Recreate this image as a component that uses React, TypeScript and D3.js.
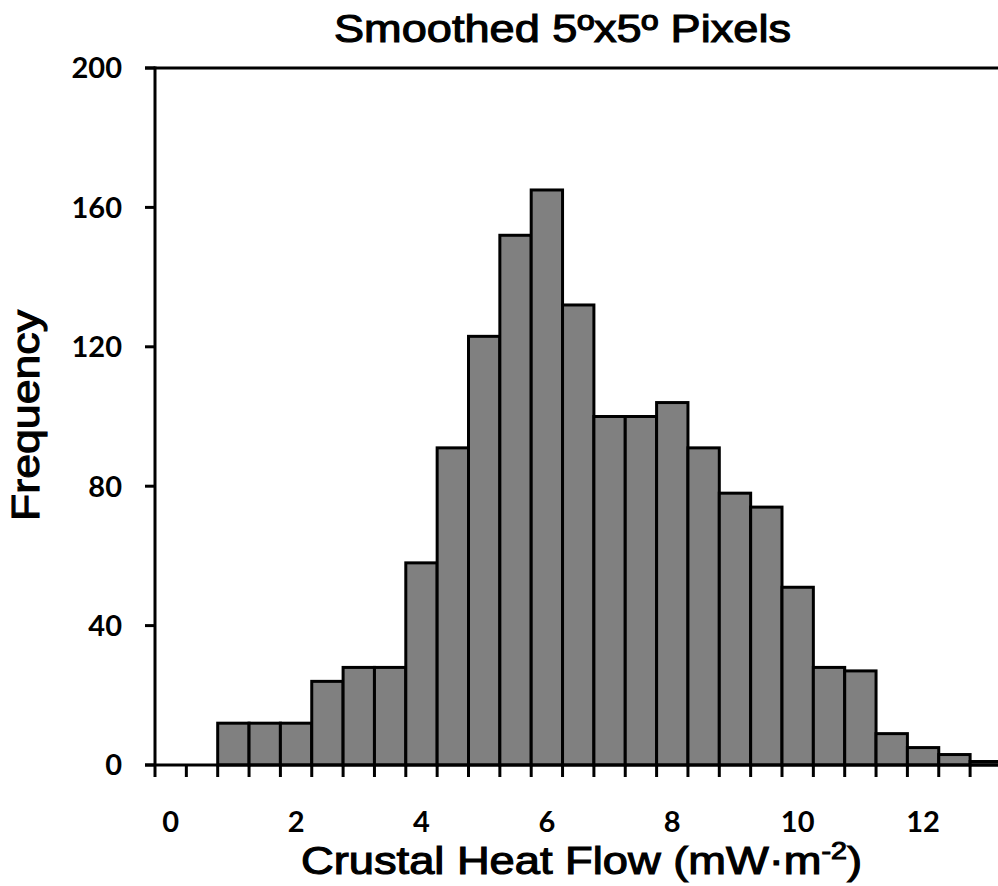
import React from "react";
import * as d3 from "d3";

const binStarts: number[] = [0, 0.5, 1, 1.5, 2, 2.5, 3, 3.5, 4, 4.5, 5, 5.5, 6, 6.5, 7, 7.5, 8, 8.5, 9, 9.5, 10, 10.5, 11, 11.5, 12, 12.5, 13];
const frequencies: number[] = [0, 0, 12, 12, 12, 24, 28, 28, 58, 91, 123, 152, 165, 132, 100, 100, 104, 91, 78, 74, 51, 28, 27, 9, 5, 3, 1];
const xTickLabels: number[] = [0, 2, 4, 6, 8, 10, 12];
const yTicks: number[] = [0, 40, 80, 120, 160, 200];

const W = 998;
const H = 886;
const left = 155;
const bandW = 31.35;
const top = 68;
const bottom = 765;

export default function App() {
  const cats = binStarts.map(String);
  const x = d3.scaleBand<string>().domain(cats).range([left, left + bandW * cats.length]).padding(0);
  const y = d3.scaleLinear().domain([0, 200]).range([bottom, top]);
  const tickFont = "Lato, 'Open Sans', sans-serif";
  const labelFont = "'Liberation Sans', Arial, sans-serif";
  const boundaries = d3.range(cats.length + 1).map((i) => left + i * x.bandwidth());

  return (
    <svg width={W} height={H} style={{ position: "absolute", left: 0, top: 0, background: "#fff" }}>
      <rect x={0} y={0} width={W} height={H} fill="#fff" />
      <text x={334} y={42} textLength={457} lengthAdjust="spacingAndGlyphs" fontFamily={labelFont} fontWeight="normal" stroke="#000" strokeWidth={1.1} fontSize={39} fill="#000">
        Smoothed 5ºx5º Pixels
      </text>
      {/* bars */}
      {frequencies.map((f, i) =>
        f > 0 ? (
          <rect
            key={i}
            x={x(cats[i])!}
            y={y(f)}
            width={x.bandwidth()}
            height={y(0) - y(f)}
            fill="#808080"
            stroke="#000"
            strokeWidth={3}
          />
        ) : null
      )}
      {/* top line */}
      <line x1={left - 10} x2={W} y1={y(200)} y2={y(200)} stroke="#000" strokeWidth={3} />
      {/* y axis */}
      <line x1={left} x2={left} y1={y(200) - 1.5} y2={y(0)} stroke="#000" strokeWidth={3} />
      {yTicks.map((t) => (
        <g key={t}>
          <line x1={left - 10} x2={left} y1={y(t)} y2={y(t)} stroke="#000" strokeWidth={3} />
          <text x={122} y={y(t)} dy="0.36em" textAnchor="end" fontFamily={tickFont} fontWeight="bold" fontSize={29} fill="#000">
            {t}
          </text>
        </g>
      ))}
      {/* x axis */}
      <line x1={left - 10} x2={W} y1={y(0)} y2={y(0)} stroke="#000" strokeWidth={3} />
      {boundaries.map((b, i) => (
        <line key={i} x1={b} x2={b} y1={y(0)} y2={y(0) + 12} stroke="#000" strokeWidth={3} />
      ))}
      {xTickLabels.map((t) => {
        const c = String(t);
        return (
          <text key={t} x={x(c)! + x.bandwidth() / 2} y={822} dy="0.36em" textAnchor="middle" fontFamily={tickFont} fontWeight="bold" fontSize={29} fill="#000">
            {t}
          </text>
        );
      })}
      <text x={301} y={874} textLength={561} lengthAdjust="spacingAndGlyphs" fontFamily={labelFont} fontWeight="normal" stroke="#000" strokeWidth={1.1} fontSize={38} fill="#000">
        Crustal Heat Flow (mW·m<tspan dy={-15} fontSize={24}>-2</tspan><tspan dy={15}>)</tspan>
      </text>
      <text transform={`translate(39,521) rotate(-90)`} textLength={211} lengthAdjust="spacingAndGlyphs" fontFamily={labelFont} fontWeight="normal" stroke="#000" strokeWidth={1.1} fontSize={38} fill="#000">
        Frequency
      </text>
    </svg>
  );
}
